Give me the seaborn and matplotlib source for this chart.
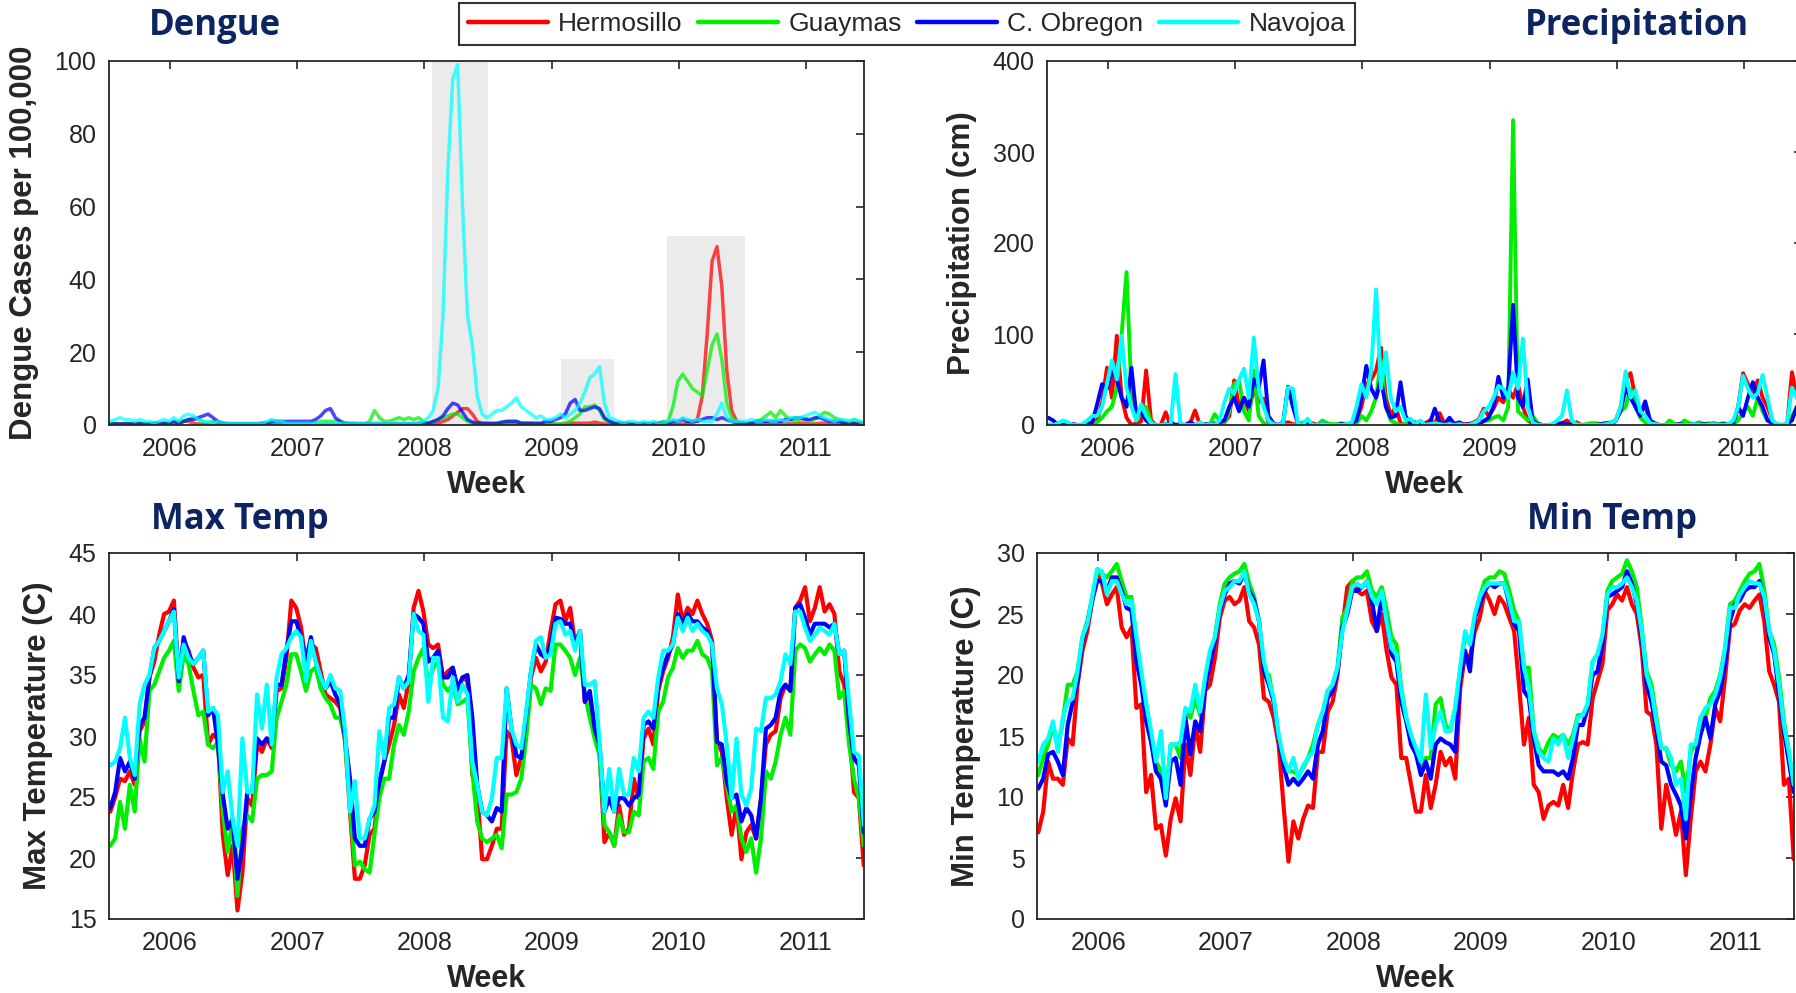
import numpy as np
import pandas as pd
import seaborn as sns
import matplotlib.pyplot as plt
from matplotlib.lines import Line2D

cities = ["Hermosillo", "Guaymas", "C. Obregon", "Navojoa"]
colors = ["#FF0000", "#00EE00", "#0000FF", "#00FFFF"]

# one reading every two weeks, starting mid 2005
start_year = 2005.53
n_points = 155
years = start_year + np.arange(n_points) / 26
year_ticks = [2006, 2007, 2008, 2009, 2010, 2011]

# ---------------- dengue cases per 100,000 ----------------
dengue_her = [0.2]*14 + [0.5, 1.0, 1.0, 0.5, 0.3, 0.2] + [0.2]*24 + [0.3, 0.3] + [0.2]*20 + \
    [0.3, 0.5, 1.0, 1.5, 2.5, 3.5, 4.5, 4.5, 3.0, 1.0, 0.3] + [0.2]*16 + \
    [0.3, 0.5, 0.5, 0.5, 0.5, 0.5, 0.8, 0.5, 0.3] + [0.2]*16 + \
    [0.5, 0.5, 1.5, 8, 25, 45, 49, 38, 15, 4, 1, 0.5] + \
    [0.3, 0.3, 0.3, 0.3, 0.5, 0.5, 0.5, 0.5, 0.5, 0.3, 0.3, 0.5, 0.5, 0.3, 0.3, 0.5, 0.5, 0.3,
     0.3, 0.3, 0.3, 0.3, 0.3, 0.3, 0.3]
dengue_guay = [0.3, 0.3, 0.3, 0.3, 0.3, 0.5, 0.5, 0.5, 0.3, 0.3,
               0.3, 0.3, 0.5, 0.5, 1.0, 1.0, 1.5, 2.0, 1.5, 1.0,
               0.5, 1.0, 0.5, 0.5, 0.3, 0.3, 0.3, 0.3, 0.3, 0.3,
               0.3, 0.3, 0.3, 0.5, 0.5, 0.5, 0.5, 0.5, 0.5, 0.5,
               0.5, 0.5, 0.5, 1.0, 1.0, 1.0, 1.0, 1.0, 0.5, 0.5,
               0.5, 0.3, 0.3, 1.0, 4.0, 2.0, 1.0, 1.0, 1.5, 2.0,
               1.5, 2.0, 1.5, 2.0, 1.0, 0.5, 1.0, 1.5, 2.0, 2.5,
               3.0, 3.0, 2.0, 1.0, 0.5, 0.3, 0.3, 0.3, 0.3, 0.3,
               0.5, 1.0, 1.0, 1.0, 0.5, 0.5, 0.5, 0.3, 0.3, 0.3,
               0.3, 0.3, 0.3, 0.5, 1.0, 2.0, 3.0, 5.0, 5.0, 5.5,
               4.0, 1.5, 1.0, 0.5, 0.5, 0.3, 0.3, 0.3, 0.3, 0.3,
               0.5, 0.5, 0.5, 1.0, 1.0, 5.0, 12, 14, 12, 10,
               9.0, 8.0, 15, 22, 25, 18, 6.0, 2.0, 1.0, 0.5,
               0.5, 0.5, 1.0, 1.5, 2.5, 3.5, 2.0, 4.0, 2.5, 1.5,
               1.0, 1.5, 2.0, 1.0, 1.5, 2.5, 3.5, 3.0, 2.0, 1.5,
               1.0, 1.0, 1.5, 1.0, 0.5]
dengue_obr = [0.3, 0.3, 0.3, 0.3, 0.3, 0.3, 0.3, 0.3, 0.3, 0.5,
              0.5, 0.5, 0.5, 1.0, 0.5, 1.0, 1.5, 1.5, 2.0, 2.5,
              3.0, 2.0, 1.0, 0.5, 0.3, 0.3, 0.3, 0.3, 0.3, 0.3,
              0.3, 0.5, 0.5, 1.0, 1.0, 1.0, 1.0, 1.0, 1.0, 1.0,
              1.0, 1.0, 1.5, 2.5, 4.0, 4.5, 2.0, 1.0, 0.5, 0.3,
              0.3, 0.3, 0.3, 0.3, 0.3, 0.3, 0.3, 0.3, 0.3, 0.3,
              0.3, 0.3, 0.3, 0.5, 0.5, 0.5, 1.0, 1.5, 2.5, 4.5,
              6.0, 5.5, 3.5, 1.5, 0.8, 0.5, 0.5, 0.5, 0.5, 0.5,
              0.8, 1.0, 1.0, 1.0, 0.5, 0.5, 0.5, 0.5, 0.5, 1.0,
              1.0, 1.5, 2.0, 3.0, 6.0, 7.0, 4.0, 4.0, 4.5, 5.0,
              4.5, 2.0, 1.0, 0.5, 0.5, 0.5, 0.5, 0.3, 0.3, 0.3,
              0.3, 0.3, 0.5, 0.5, 0.5, 1.0, 1.0, 1.5, 1.0, 1.0,
              1.0, 1.5, 2.0, 2.0, 1.5, 2.0, 1.5, 1.0, 0.5, 0.5,
              0.5, 0.5, 1.0, 1.0, 1.0, 1.0, 1.0, 1.0, 1.5, 1.5,
              2.0, 2.0, 1.5, 1.5, 2.0, 2.0, 1.5, 1.0, 1.0, 1.0,
              0.5, 0.5, 0.5, 0.5, 0.5]
dengue_nav = [1.0, 1.5, 2.0, 1.5, 1.5, 1.0, 1.5, 1.0, 1.0, 0.5,
              1.0, 1.5, 1.0, 2.0, 1.0, 2.5, 3.0, 2.5, 1.5, 1.0,
              1.0, 0.5, 1.0, 0.5, 0.5, 0.5, 0.5, 0.5, 0.5, 0.5,
              0.5, 0.5, 1.0, 1.5, 1.0, 1.0, 0.5, 0.5, 0.5, 0.5,
              0.5, 0.5, 0.5, 0.5, 0.5, 0.5, 0.5, 0.5, 0.5, 0.5,
              0.5, 0.5, 0.5, 0.5, 0.5, 0.5, 0.5, 0.5, 0.5, 0.5,
              0.5, 0.5, 0.5, 0.5, 1.0, 2.0, 4.0, 10, 30, 70,
              95, 99, 60, 30, 22, 8, 3, 2, 3, 4,
              4, 5, 6, 7.5, 5, 4, 3, 2, 2.5, 1.5,
              1.5, 2.0, 3.0, 2.0, 3.0, 4.0, 6.0, 9.0, 13, 14,
              16, 6.0, 2.0, 1.5, 1.0, 0.5, 1.0, 1.0, 0.5, 1.0,
              0.5, 1.0, 0.5, 0.5, 1.0, 1.5, 1.0, 2.0, 1.5, 1.0,
              1.5, 1.0, 1.0, 1.0, 3.0, 6.0, 2.0, 1.0, 1.0, 1.0,
              1.0, 1.5, 1.0, 1.0, 1.5, 1.0, 1.0, 1.5, 1.0, 2.0,
              2.0, 2.0, 2.5, 3.0, 3.5, 2.5, 2.0, 1.5, 1.0, 1.5,
              1.5, 1.0, 1.5, 1.0, 0.5]
# outbreak windows shaded in grey
outbreak_start = [2008.06, 2009.07, 2009.91]
outbreak_end = [2008.50, 2009.49, 2010.52]
outbreak_top = [100, 18, 52]

# ---------------- precipitation (cm) ----------------
precip_her = [0, 0, 1, 0, 0, 0, 0, 0, 1, 2,
              5, 25, 63, 30, 98, 30, 8, 0, 2, 4,
              60, 5, 0, 0, 14, 0, 0, 0, 0, 2,
              16, 0, 0, 0, 2, 0, 3, 10, 49, 20,
              30, 15, 40, 25, 29, 2, 0, 0, 1, 3,
              1, 0, 0, 0, 2, 0, 0, 1, 0, 0,
              0, 1, 2, 5, 20, 45, 50, 60, 85, 30,
              10, 20, 2, 0, 0, 1, 0, 2, 5, 2,
              13, 1, 4, 0, 2, 1, 1, 3, 6, 18,
              10, 18, 30, 25, 40, 30, 45, 20, 5, 2,
              1, 0, 0, 0, 1, 2, 5, 1, 3, 0,
              0, 0, 1, 0, 0, 0, 5, 20, 50, 57,
              30, 15, 20, 5, 2, 0, 0, 0, 0, 1,
              0, 0, 0, 0, 1, 0, 2, 1, 0, 1,
              0, 20, 57, 45, 35, 49, 30, 20, 5, 0,
              0, 0, 58, 30, 10]
precip_guay = [0, 0, 0, 0, 0, 0, 0, 0, 1, 2,
               3, 8, 15, 20, 40, 100, 168, 35, 5, 15,
               20, 3, 0, 0, 0, 0, 0, 0, 0, 0,
               0, 0, 0, 0, 12, 5, 2, 15, 45, 49,
               15, 5, 60, 10, 2, 0, 0, 0, 0, 0,
               0, 0, 3, 0, 0, 0, 5, 2, 1, 1,
               2, 1, 0, 2, 10, 5, 15, 30, 71, 20,
               5, 2, 0, 1, 2, 0, 0, 0, 1, 0,
               0, 0, 1, 2, 1, 0, 0, 2, 3, 5,
               5, 8, 10, 5, 20, 335, 15, 10, 5, 10,
               2, 0, 0, 0, 0, 1, 0, 0, 1, 0,
               1, 2, 2, 1, 2, 3, 5, 15, 20, 40,
               20, 8, 3, 2, 1, 0, 0, 5, 1, 0,
               5, 2, 1, 3, 1, 2, 1, 1, 2, 1,
               1, 5, 15, 20, 10, 30, 15, 5, 2, 1,
               0, 0, 10, 20, 5]
precip_obr = [8, 5, 0, 0, 0, 1, 0, 0, 1, 3,
              23, 45, 40, 60, 50, 30, 20, 63, 10, 15,
              5, 1, 0, 0, 1, 3, 0, 1, 0, 3,
              0, 0, 1, 1, 0, 3, 5, 20, 30, 15,
              30, 20, 50, 40, 71, 10, 2, 0, 3, 42,
              20, 2, 0, 1, 0, 0, 1, 0, 0, 0,
              1, 0, 2, 5, 30, 65, 40, 30, 50, 20,
              8, 10, 47, 10, 2, 3, 1, 0, 2, 18,
              3, 1, 8, 1, 3, 0, 1, 1, 2, 4,
              8, 20, 53, 30, 40, 132, 30, 20, 50, 5,
              1, 0, 0, 0, 1, 2, 1, 0, 0, 0,
              0, 0, 0, 1, 2, 1, 5, 16, 40, 30,
              20, 10, 26, 5, 1, 0, 0, 0, 0, 1,
              0, 0, 1, 0, 1, 0, 1, 0, 1, 0,
              2, 20, 10, 30, 47, 30, 20, 5, 2, 0,
              0, 1, 5, 20, 10]
precip_nav = [1, 0, 2, 5, 3, 0, 0, 1, 5, 10,
              10, 20, 45, 71, 50, 98, 40, 20, 5, 23,
              10, 2, 0, 0, 1, 0, 56, 2, 0, 0,
              0, 3, 0, 1, 0, 5, 25, 40, 35, 50,
              62, 30, 96, 40, 20, 5, 1, 0, 2, 41,
              40, 2, 0, 7, 0, 0, 1, 0, 0, 0,
              0, 1, 2, 20, 45, 30, 60, 149, 40, 80,
              30, 15, 20, 5, 7, 1, 5, 0, 1, 2,
              1, 0, 1, 0, 1, 0, 0, 2, 5, 15,
              20, 30, 43, 40, 30, 58, 40, 95, 20, 3,
              0, 0, 0, 1, 5, 10, 38, 5, 0, 0,
              0, 0, 0, 0, 1, 2, 5, 20, 59, 30,
              38, 15, 10, 2, 1, 0, 0, 0, 0, 0,
              0, 0, 1, 0, 0, 0, 1, 0, 0, 1,
              5, 20, 54, 40, 30, 35, 55, 30, 5, 1,
              0, 2, 41, 30, 10]

# ---------------- maximum temperature (C) ----------------
tmax_her = [23.8, 25.0, 26.5, 26.3, 27.1, 26.0, 30.4, 31.2, 34.8, 36.1,
            38.3, 40.0, 40.2, 41.1, 34.8, 37.8, 37.0, 35.6, 34.8, 35.0,
            29.3, 30.1, 29.8, 21.9, 18.6, 21.0, 15.7, 18.8, 24.9, 24.3,
            29.3, 28.7, 29.8, 29.0, 33.7, 33.9, 36.4, 41.1, 40.5, 38.9,
            35.9, 37.5, 37.2, 35.3, 33.4, 33.1, 32.8, 32.3, 29.5, 23.8,
            18.3, 18.3, 19.4, 21.9, 22.4, 26.0, 27.9, 29.3, 30.9, 33.4,
            32.3, 34.5, 40.5, 41.9, 40.2, 37.5, 37.2, 37.5, 34.8, 35.3,
            35.6, 33.7, 34.8, 34.5, 26.8, 25.4, 19.9, 19.9, 21.0, 22.4,
            22.4, 30.4, 29.8, 26.8, 28.2, 30.9, 34.8, 36.4, 35.3, 36.1,
            38.6, 40.8, 41.1, 39.4, 40.5, 37.5, 38.6, 32.8, 33.4, 30.4,
            28.7, 21.3, 22.1, 21.0, 24.3, 21.9, 22.4, 26.5, 24.9, 29.8,
            30.6, 29.3, 33.7, 35.3, 36.4, 38.1, 41.6, 39.4, 40.5, 40.0,
            41.1, 40.0, 39.2, 37.8, 29.5, 28.7, 24.9, 21.9, 24.3, 19.9,
            22.1, 22.7, 21.6, 24.9, 29.3, 30.1, 30.4, 33.1, 34.2, 33.7,
            40.5, 41.1, 42.2, 39.4, 40.5, 42.2, 40.2, 40.8, 40.0, 35.3,
            34.2, 30.9, 25.4, 24.9, 19.4]
tmax_guay = [21.0, 21.6, 24.6, 22.4, 26.0, 23.8, 29.8, 27.9, 33.7, 34.2,
             35.3, 36.4, 37.0, 37.8, 33.7, 36.7, 35.9, 33.7, 31.7, 32.0,
             29.3, 29.0, 29.5, 23.8, 20.5, 23.0, 16.9, 22.4, 23.5, 23.0,
             26.5, 26.8, 26.8, 27.1, 31.5, 32.8, 34.2, 36.7, 36.7, 35.3,
             33.7, 35.3, 35.6, 33.9, 33.1, 32.6, 31.5, 31.5, 29.8, 24.3,
             19.4, 19.7, 19.1, 18.8, 21.9, 24.9, 26.5, 26.5, 29.3, 30.9,
             30.1, 32.0, 35.3, 36.4, 37.2, 34.2, 35.6, 36.1, 34.2, 33.7,
             34.2, 32.6, 32.8, 33.1, 27.1, 23.0, 21.6, 21.3, 21.6, 21.9,
             20.8, 25.2, 25.2, 25.4, 26.5, 29.8, 34.2, 33.9, 32.6, 33.9,
             33.7, 37.5, 37.5, 37.0, 36.4, 35.0, 36.4, 33.4, 31.5, 29.8,
             28.4, 22.7, 22.1, 21.0, 23.5, 22.1, 22.1, 23.8, 23.5, 27.9,
             28.2, 27.3, 32.0, 32.8, 34.8, 35.6, 37.2, 36.4, 37.0, 37.0,
             37.8, 36.7, 36.4, 35.3, 27.6, 28.2, 26.0, 23.8, 24.3, 21.6,
             20.5, 21.6, 18.8, 21.6, 27.1, 26.5, 27.9, 30.1, 31.5, 30.1,
             37.0, 37.5, 37.2, 36.1, 36.7, 37.2, 36.7, 37.5, 37.0, 33.1,
             33.7, 29.3, 26.5, 24.9, 21.0]
tmax_obr = [24.1, 25.4, 28.2, 27.1, 27.9, 26.5, 30.9, 31.5, 34.8, 37.2,
            37.8, 38.6, 39.4, 40.4, 34.5, 38.1, 36.7, 35.9, 36.4, 37.0,
            31.7, 32.3, 29.3, 25.2, 22.4, 23.2, 18.3, 21.0, 25.4, 25.4,
            29.8, 29.3, 29.8, 29.3, 34.2, 34.2, 37.0, 39.4, 39.4, 38.1,
            36.1, 38.1, 36.1, 34.8, 33.9, 34.5, 33.4, 32.6, 29.8, 26.5,
            21.6, 21.0, 21.0, 23.2, 23.8, 26.3, 27.9, 31.5, 31.5, 34.8,
            33.9, 35.0, 40.0, 39.7, 39.2, 36.1, 36.4, 37.0, 34.8, 34.8,
            35.6, 33.9, 34.8, 35.0, 31.5, 26.0, 23.8, 23.5, 23.0, 24.1,
            23.8, 33.9, 30.6, 28.4, 28.2, 31.7, 35.3, 37.5, 36.7, 36.4,
            37.5, 39.7, 39.6, 39.2, 39.2, 37.5, 38.6, 32.8, 33.7, 30.6,
            29.3, 23.8, 24.9, 23.8, 24.9, 24.9, 24.3, 24.9, 25.2, 30.9,
            31.2, 30.6, 34.2, 35.6, 36.7, 37.5, 40.0, 39.2, 40.0, 39.4,
            39.4, 38.9, 38.6, 37.5, 29.5, 29.3, 26.3, 24.9, 25.2, 23.0,
            24.1, 23.5, 21.6, 24.9, 30.6, 30.9, 31.5, 33.7, 34.2, 33.7,
            40.5, 40.8, 39.7, 38.3, 39.2, 39.2, 39.2, 38.9, 39.2, 36.7,
            37.0, 31.2, 28.2, 27.6, 22.1]
tmax_nav = [27.6, 27.9, 29.0, 31.5, 28.2, 26.8, 32.6, 34.2, 35.0, 37.2,
            37.8, 38.6, 39.4, 40.2, 34.8, 37.5, 36.4, 35.9, 36.4, 37.0,
            32.0, 32.3, 31.7, 25.4, 27.1, 23.2, 21.0, 29.8, 25.4, 25.4,
            33.4, 30.6, 34.2, 29.3, 34.8, 36.7, 37.2, 38.1, 38.6, 38.1,
            34.5, 37.8, 36.1, 34.8, 33.9, 35.0, 33.9, 33.7, 30.4, 23.8,
            26.3, 21.6, 21.6, 23.2, 24.3, 30.4, 28.2, 32.3, 32.6, 34.8,
            33.9, 34.5, 40.0, 38.6, 38.3, 32.8, 36.4, 36.4, 31.5, 31.2,
            34.8, 32.8, 34.2, 33.4, 27.9, 26.0, 23.8, 23.5, 24.9, 28.2,
            28.2, 33.9, 30.6, 29.3, 29.0, 32.0, 35.3, 37.8, 38.1, 36.4,
            36.7, 39.2, 39.4, 38.3, 38.6, 37.0, 38.6, 34.2, 34.2, 34.5,
            29.5, 23.8, 27.3, 23.8, 27.3, 25.2, 25.2, 28.2, 27.1, 31.5,
            32.0, 31.5, 34.8, 37.0, 37.0, 37.5, 39.7, 38.6, 39.7, 38.6,
            39.2, 38.6, 38.3, 37.5, 33.9, 32.6, 29.3, 24.9, 29.8, 25.2,
            24.3, 25.7, 30.6, 30.4, 33.1, 33.1, 33.4, 34.5, 36.7, 35.9,
            40.2, 40.2, 38.9, 37.8, 38.3, 38.9, 38.6, 38.3, 39.2, 36.7,
            37.0, 32.8, 28.7, 28.4, 22.7]

# ---------------- minimum temperature (C) ----------------
tmin_her = [7.1, 8.8, 12.9, 11.5, 11.5, 11.0, 14.8, 14.3, 19.2, 22.0,
            23.6, 26.1, 28.3, 27.5, 25.8, 26.6, 27.2, 23.9, 23.1, 23.9,
            17.3, 17.6, 10.4, 11.8, 7.4, 7.7, 5.2, 8.2, 9.9, 8.0,
            14.3, 11.8, 15.9, 13.7, 18.7, 19.2, 21.4, 24.7, 26.1, 26.4,
            25.8, 26.1, 27.2, 24.4, 23.9, 22.5, 18.1, 17.8, 16.5, 14.3,
            9.3, 4.7, 8.0, 6.6, 8.2, 9.3, 9.1, 13.7, 13.7, 17.0,
            17.8, 20.0, 23.9, 27.2, 27.7, 26.9, 26.6, 26.9, 24.4, 23.6,
            25.0, 22.0, 19.8, 19.2, 13.2, 13.2, 11.0, 8.8, 8.8, 11.8,
            9.1, 11.0, 13.7, 12.6, 13.2, 11.5, 18.9, 21.7, 21.4, 23.6,
            24.7, 26.9, 26.1, 25.0, 26.4, 25.8, 24.7, 23.6, 19.2, 14.3,
            16.5, 11.0, 10.4, 8.2, 9.3, 9.6, 9.3, 11.0, 9.1, 12.1,
            14.3, 14.5, 14.3, 18.1, 19.5, 20.9, 25.3, 25.8, 26.6, 26.1,
            27.2, 25.8, 25.0, 22.2, 17.0, 16.7, 14.3, 7.4, 11.0, 9.1,
            6.9, 8.8, 3.6, 8.2, 12.1, 12.9, 12.1, 14.3, 17.3, 16.2,
            19.8, 23.9, 24.2, 25.3, 25.8, 25.5, 26.1, 26.6, 24.4, 20.3,
            19.2, 17.8, 11.0, 11.5, 4.9]
tmin_guay = [11.8, 13.2, 14.3, 15.9, 14.0, 16.2, 19.2, 19.2, 20.3, 23.1,
             24.4, 26.4, 28.5, 28.3, 28.0, 28.5, 29.1, 27.7, 26.4, 26.4,
             22.8, 19.8, 17.6, 14.8, 12.9, 12.1, 9.9, 14.3, 14.3, 13.2,
             17.0, 16.5, 18.1, 16.7, 19.2, 21.7, 23.1, 25.8, 27.5, 28.0,
             28.3, 28.5, 29.1, 27.5, 26.4, 24.4, 20.3, 20.0, 17.8, 14.8,
             12.9, 12.1, 12.1, 11.8, 12.4, 13.2, 14.3, 15.9, 17.0, 18.7,
             19.2, 20.6, 24.7, 25.5, 27.7, 28.0, 28.0, 28.5, 26.9, 26.4,
             27.2, 25.3, 23.1, 22.5, 18.9, 16.5, 14.8, 13.7, 12.6, 13.2,
             13.2, 17.6, 18.1, 15.9, 15.4, 17.3, 20.3, 23.3, 22.5, 24.7,
             26.4, 27.7, 28.0, 28.0, 28.5, 28.3, 26.9, 25.3, 24.4, 20.6,
             20.6, 15.4, 14.0, 13.5, 14.5, 15.1, 14.8, 15.1, 14.3, 15.1,
             16.7, 16.7, 17.6, 21.1, 21.7, 23.1, 26.9, 27.7, 28.0, 28.3,
             29.4, 28.5, 27.2, 23.9, 20.3, 19.2, 16.5, 14.0, 14.0, 12.6,
             12.1, 12.9, 10.4, 13.7, 14.3, 16.5, 16.5, 18.1, 18.7, 20.0,
             22.2, 25.8, 26.1, 26.9, 27.7, 28.3, 28.5, 29.1, 26.9, 23.6,
             22.5, 19.8, 16.2, 13.7, 10.7]
tmin_obr = [10.7, 11.5, 13.5, 13.7, 12.9, 11.8, 15.9, 17.8, 19.5, 22.8,
            24.2, 26.1, 27.7, 27.7, 26.9, 28.0, 28.0, 26.9, 25.5, 25.3,
            21.1, 19.2, 16.2, 14.5, 12.1, 11.5, 9.3, 12.9, 13.2, 11.0,
            16.5, 13.5, 16.2, 15.4, 18.9, 20.9, 22.8, 25.3, 26.6, 27.5,
            27.7, 27.5, 28.3, 26.9, 26.1, 24.4, 20.3, 19.2, 17.8, 14.8,
            12.6, 11.0, 11.5, 11.0, 11.5, 12.1, 11.5, 14.3, 15.4, 18.1,
            18.7, 20.3, 23.9, 25.0, 26.9, 26.9, 27.2, 27.7, 26.1, 23.6,
            26.4, 24.4, 21.7, 21.1, 17.8, 16.2, 14.3, 13.5, 11.8, 12.9,
            11.5, 14.3, 14.8, 14.5, 14.3, 13.7, 19.8, 22.0, 20.3, 24.7,
            25.8, 26.9, 27.5, 27.2, 27.5, 27.5, 25.8, 24.2, 23.6, 18.7,
            18.1, 14.8, 12.6, 12.1, 12.1, 12.1, 11.8, 12.1, 11.5, 13.2,
            15.9, 15.9, 17.3, 20.0, 20.3, 22.5, 26.4, 26.6, 26.9, 27.2,
            28.5, 27.5, 25.8, 23.1, 19.2, 17.8, 15.6, 12.9, 12.6, 11.0,
            10.2, 9.3, 6.6, 10.2, 13.2, 15.1, 16.5, 14.8, 17.6, 18.7,
            20.9, 24.4, 25.8, 26.1, 26.9, 27.2, 27.2, 27.7, 26.1, 23.1,
            21.7, 18.4, 15.4, 12.9, 10.4]
tmin_nav = [12.9, 14.3, 14.8, 16.2, 13.7, 16.5, 17.8, 18.1, 20.3, 23.1,
            24.2, 26.4, 28.7, 28.5, 26.6, 27.7, 27.7, 26.6, 25.8, 26.1,
            23.1, 20.3, 17.6, 15.4, 12.9, 15.4, 9.9, 14.3, 14.3, 14.5,
            17.3, 17.0, 19.2, 17.0, 19.8, 22.0, 23.1, 25.5, 26.9, 27.2,
            27.7, 27.7, 28.5, 26.6, 25.8, 24.4, 21.1, 19.5, 18.1, 15.1,
            13.2, 12.1, 13.2, 11.5, 12.6, 13.2, 13.7, 15.9, 17.0, 18.7,
            19.2, 20.6, 23.6, 25.3, 27.2, 27.5, 27.2, 27.7, 26.4, 25.8,
            26.9, 24.4, 22.2, 21.7, 18.7, 16.5, 15.1, 14.0, 12.9, 18.4,
            14.0, 15.9, 17.0, 15.4, 15.4, 17.3, 20.6, 23.6, 22.5, 25.0,
            26.4, 27.2, 27.5, 27.5, 27.5, 27.5, 26.1, 24.4, 24.4, 20.6,
            18.9, 15.4, 13.7, 13.2, 12.9, 14.8, 14.3, 15.1, 13.2, 14.8,
            16.5, 16.7, 17.6, 21.1, 21.7, 23.3, 26.6, 27.2, 27.2, 27.5,
            28.0, 27.2, 26.1, 23.6, 20.0, 18.7, 16.2, 14.0, 14.0, 13.2,
            11.0, 11.5, 8.2, 14.3, 14.3, 16.5, 17.3, 17.6, 18.4, 19.8,
            22.2, 25.5, 25.5, 26.6, 27.2, 27.7, 27.5, 27.5, 26.4, 23.6,
            22.0, 19.2, 15.9, 13.7, 11.0]


def long_frame(series):
    parts = []
    for city, vals in zip(cities, series):
        parts.append(pd.DataFrame({"year": years, "value": vals, "city": city}))
    return pd.concat(parts, ignore_index=True)


sns.set_style("white")
plt.rcParams["font.family"] = ["Liberation Sans", "DejaVu Sans"]

W, H = 1796, 993
fig = plt.figure(figsize=(W / 100, H / 100), dpi=100)


def make_axes(x0, y0, x1, y1):
    # pixel box -> figure fraction
    return fig.add_axes([x0 / W, 1 - y1 / H, (x1 - x0) / W, (y1 - y0) / H])


def draw(ax, series, ylim, yticks, ylabel, lw=3.0, alpha=1.0):
    sns.lineplot(data=long_frame(series), x="year", y="value", hue="city",
                 hue_order=cities, palette=colors, estimator=None, lw=lw,
                 alpha=alpha, legend=False, ax=ax)
    ax.set_xlim(2005.52, 2011.455)
    ax.set_ylim(*ylim)
    ax.set_xticks(year_ticks)
    ax.set_xticklabels([str(y) for y in year_ticks])
    ax.set_yticks(yticks)
    ax.tick_params(direction="in", length=6, width=1.2, top=True, right=True,
                   labelsize=18, pad=9, color="#262626")
    for s in ax.spines.values():
        s.set_color("#262626")
        s.set_linewidth(1.3)
    ax.set_xlabel("Week", fontsize=22, fontweight="bold", labelpad=6)
    ax.set_ylabel(ylabel, fontsize=22.5, fontweight="bold", labelpad=11)


ax_d = make_axes(109, 61, 864, 425)
for x0, x1, top in zip(outbreak_start, outbreak_end, outbreak_top):
    ax_d.fill_between([x0, x1], 0, top, color="#EBEBEB", lw=0, zorder=0)
draw(ax_d, [dengue_her, dengue_guay, dengue_obr, dengue_nav], (0, 100),
     range(0, 101, 20), "Dengue Cases per 100,000", lw=2.5, alpha=0.72)

ax_p = make_axes(1047, 61, 1802, 425)
draw(ax_p, [precip_her, precip_guay, precip_obr, precip_nav], (0, 400),
     range(0, 401, 100), "Precipitation (cm)", lw=2.8)

ax_x = make_axes(109, 553, 864, 919)
draw(ax_x, [tmax_her, tmax_guay, tmax_obr, tmax_nav], (15, 45),
     range(15, 46, 5), "Max Temperature (C)")

ax_n = make_axes(1037, 553, 1794, 919)
draw(ax_n, [tmin_her, tmin_guay, tmin_obr, tmin_nav], (0, 30),
     range(0, 31, 5), "Min Temperature (C)")

navy = "#0C2461"
for label, px, py in [("Dengue", 215, 35), ("Precipitation", 1637, 35),
                      ("Max Temp", 240, 529), ("Min Temp", 1612, 529)]:
    fig.text(px / W, 1 - py / H, label, fontsize=25, fontweight="bold",
             family="Open Sans", color=navy, ha="center", va="baseline")

handles = [Line2D([0], [0], color=c, lw=3.2) for c in colors]
leg = fig.legend(handles, cities, loc="upper center", bbox_to_anchor=(907 / W, 1 - 3 / H),
                 ncol=4, fontsize=19, handlelength=3.0, handletextpad=0.4,
                 columnspacing=0.6, borderpad=0.35, borderaxespad=0, fancybox=False,
                 framealpha=1, edgecolor="#333333")
leg.get_frame().set_linewidth(1.5)

fig.savefig("out.png", dpi=100)
